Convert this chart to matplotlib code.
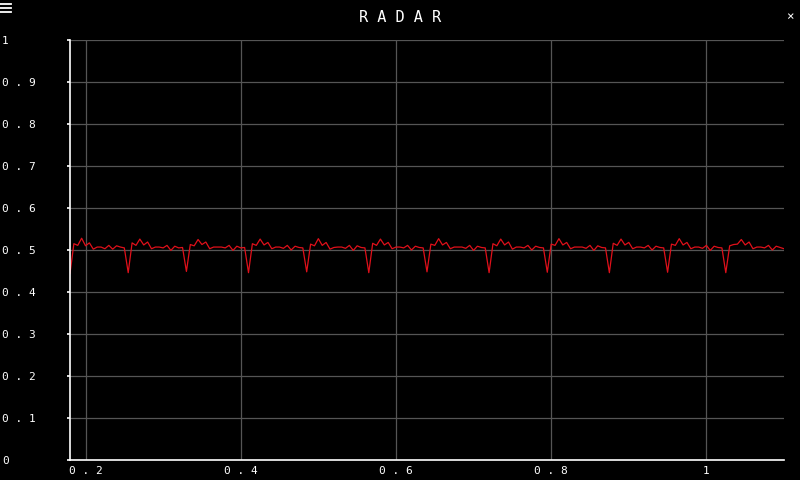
"""RADAR trace: periodic beat around 0.5 on a dark scope-style panel."""
import matplotlib
matplotlib.use("Agg")
import matplotlib.pyplot as plt
from matplotlib.lines import Line2D
import numpy as np

# sample grid of the trace (seconds)
t_start = 0.18
t_step = 0.005

# radar amplitude, one row per beat (each row starts at the dip)
radar = [
    0.444, 0.515, 0.511, 0.528, 0.510, 0.517, 0.502, 0.507, 0.507, 0.503, 0.511, 0.502, 0.510, 0.507, 0.505,
    0.446, 0.517, 0.511, 0.526, 0.512, 0.519, 0.503, 0.507, 0.507, 0.505, 0.511, 0.499, 0.509, 0.505, 0.506,
    0.449, 0.513, 0.510, 0.525, 0.513, 0.519, 0.503, 0.507, 0.507, 0.507, 0.505, 0.511, 0.499, 0.509, 0.505, 0.506,
    0.446, 0.515, 0.511, 0.526, 0.512, 0.518, 0.503, 0.507, 0.507, 0.504, 0.511, 0.500, 0.509, 0.506, 0.505,
    0.448, 0.514, 0.510, 0.527, 0.511, 0.518, 0.502, 0.506, 0.507, 0.507, 0.504, 0.511, 0.499, 0.510, 0.506, 0.505,
    0.446, 0.516, 0.511, 0.526, 0.512, 0.518, 0.503, 0.507, 0.507, 0.505, 0.511, 0.500, 0.509, 0.506, 0.505,
    0.448, 0.514, 0.511, 0.527, 0.512, 0.518, 0.503, 0.507, 0.507, 0.507, 0.504, 0.511, 0.499, 0.509, 0.506, 0.505,
    0.446, 0.515, 0.510, 0.526, 0.512, 0.519, 0.502, 0.507, 0.507, 0.505, 0.511, 0.500, 0.509, 0.506, 0.505,
    0.447, 0.514, 0.511, 0.527, 0.512, 0.518, 0.503, 0.507, 0.507, 0.507, 0.504, 0.511, 0.499, 0.510, 0.506, 0.505,
    0.446, 0.516, 0.511, 0.526, 0.512, 0.518, 0.503, 0.507, 0.507, 0.505, 0.511, 0.500, 0.509, 0.506, 0.505,
    0.447, 0.514, 0.511, 0.527, 0.512, 0.518, 0.503, 0.507, 0.507, 0.504, 0.511, 0.499, 0.509, 0.506, 0.505,
    0.446, 0.510, 0.513, 0.514, 0.525, 0.512, 0.519, 0.503, 0.507, 0.507, 0.505, 0.511, 0.500, 0.509, 0.506, 0.503,
]

y_ticks = [0, 0.1, 0.2, 0.3, 0.4, 0.5, 0.6, 0.7, 0.8, 0.9, 1]
y_labels = ["0", "0 . 1", "0 . 2", "0 . 3", "0 . 4", "0 . 5", "0 . 6", "0 . 7", "0 . 8", "0 . 9", "1"]
x_ticks = [0.2, 0.4, 0.6, 0.8, 1.0]
x_labels = ["0 . 2", "0 . 4", "0 . 6", "0 . 8", "1"]

BG = "black"
FG = "white"
GRID = "#555555"
TRACE = "#e0101a"
MONO = "DejaVu Sans Mono"

W, H = 800, 480
t = t_start + t_step * np.arange(len(radar))

fig = plt.figure(figsize=(8, 4.8), dpi=100, facecolor=BG)
ax = fig.add_axes([70 / W, 20 / H, 714 / W, 420 / H], facecolor=BG)

ax.plot(t, radar, color=TRACE, lw=0.9)

ax.set_xlim(t_start, 1.1)
ax.set_ylim(0, 1)
ax.set_xticks(x_ticks)
ax.set_xticklabels(x_labels)
ax.set_yticks(y_ticks)
ax.set_yticklabels(y_labels)
ax.grid(True, color=GRID, lw=0.9)
ax.set_axisbelow(True)

for side in ("top", "right"):
    ax.spines[side].set_visible(False)
for side in ("left", "bottom"):
    ax.spines[side].set_color(FG)
    ax.spines[side].set_linewidth(1.2)

ax.tick_params(axis="x", length=0, pad=4, colors=FG, labelsize=8)
ax.tick_params(axis="y", length=2, width=1.2, colors=FG, labelsize=8, pad=47)
for lab in ax.get_xticklabels() + ax.get_yticklabels():
    lab.set_fontfamily(MONO)
for lab in ax.get_yticklabels():
    lab.set_horizontalalignment("left")

fig.text(0.5, 1 - 18 / H, "R A D A R", ha="center", va="center",
         color=FG, fontsize=11, family=MONO)

# window chrome: menu icon and close mark
for yy in (4, 8, 12):
    fig.add_artist(Line2D([0, 11 / W], [1 - yy / H] * 2, color=FG, lw=1.3))
fig.text(789.5 / W, 1 - 16.5 / H, "×", ha="center", va="center",
         color=FG, fontsize=9, family=MONO)

fig.savefig("out.png", dpi=100, facecolor=BG)
